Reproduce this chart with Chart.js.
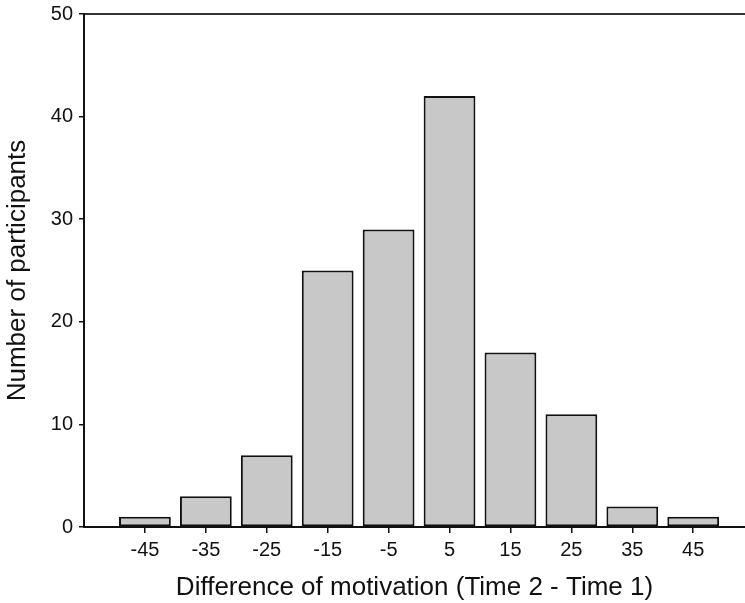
<!DOCTYPE html>
<html>
<head>
<meta charset="utf-8">
<script src="https://cdn.jsdelivr.net/npm/chart.js@4/dist/chart.umd.min.js"></script>
<style>
  html, body { margin: 0; padding: 0; background: #fff; overflow: hidden; }
  #wrap { width: 745px; height: 603px; }
</style>
</head>
<body>
<div id="wrap"><canvas id="c" width="745" height="603"></canvas></div>
<script>
const binCenters = [-45, -35, -25, -15, -5, 5, 15, 25, 35, 45];
const tickLabels = ['-45', '-35', '-25', '-15', '-5', '5', '15', '25', '35', '45'];
const counts = [1, 3, 7, 25, 29, 42, 17, 11, 2, 1];
const yTicks = [0, 10, 20, 30, 40, 50];

const FONT = '"Liberation Sans", Arial, Helvetica, sans-serif';
const INK = '#111111';
const X_MIN = -55, X_MAX = 53.5;

new Chart(document.getElementById('c'), {
  type: 'bar',
  data: {
    datasets: [{
      data: binCenters.map((x, i) => ({ x: x, y: counts[i] })),
      backgroundColor: '#c8c8c8',
      borderColor: '#111111',
      borderWidth: 2,
      borderSkipped: false,
      categoryPercentage: 1.0,
      barPercentage: 0.85
    }]
  },
  options: {
    responsive: false,
    animation: false,
    layout: { padding: 0 },
    plugins: { legend: { display: false }, tooltip: { enabled: false } },
    scales: {
      x: {
        type: 'linear',
        position: 'bottom',
        min: X_MIN,
        max: X_MAX,
        offset: false,
        afterBuildTicks: s => { s.ticks = binCenters.map(v => ({ value: v })); },
        afterFit: s => { s.height = 76; },
        ticks: {
          autoSkip: false,
          maxRotation: 0,
          padding: 5,
          color: INK,
          font: { family: FONT, size: 20 },
          callback: (v, i) => tickLabels[i]
        },
        grid: { display: true, offset: false, drawOnChartArea: false, drawTicks: true, tickLength: 6, color: INK, lineWidth: 1.5 },
        border: { display: true, color: INK, width: 2 },
        title: {
          display: true,
          text: 'Difference of motivation (Time 2 - Time 1)',
          color: INK,
          font: { family: FONT, size: 26 },
          padding: { top: 0, bottom: 0 }
        }
      },
      xTop: {
        type: 'linear',
        position: 'top',
        min: X_MIN,
        max: X_MAX,
        offset: false,
        afterFit: s => { s.height = 14; },
        ticks: { display: false },
        grid: { display: false },
        border: { display: true, color: '#333333', width: 2 }
      },
      y: {
        type: 'linear',
        position: 'left',
        min: 0,
        max: 50,
        afterBuildTicks: s => { s.ticks = yTicks.map(v => ({ value: v })); },
        afterFit: s => { s.width = 84; },
        ticks: {
          padding: 6,
          color: INK,
          font: { family: FONT, size: 20, lineHeight: 0.8 },
          callback: v => String(v)
        },
        grid: { display: true, drawOnChartArea: false, drawTicks: true, tickLength: 5, color: INK, lineWidth: 1.5 },
        border: { display: true, color: INK, width: 2 },
        title: {
          display: true,
          text: 'Number of participants',
          color: INK,
          font: { family: FONT, size: 26 },
          padding: { top: 2, bottom: 0 }
        }
      }
    }
  }
});
</script>
</body>
</html>
